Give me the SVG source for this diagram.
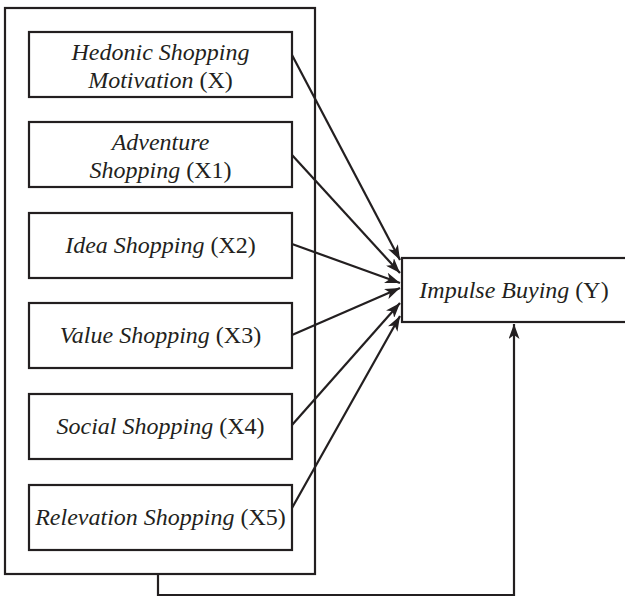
<svg xmlns="http://www.w3.org/2000/svg" width="625" height="599" viewBox="0 0 625 599">
<style>
.box{fill:#fff;stroke:#231f20;stroke-width:2.2}
.t{font-family:"Liberation Serif","Times New Roman",serif;font-size:24px;fill:#231f20;text-anchor:middle}
.i{font-style:italic}
.c{fill:none;stroke:#231f20;stroke-width:2.2}
</style>
<defs>
<marker id="ah" viewBox="0 0 15 11" refX="15" refY="5.5" markerWidth="15" markerHeight="11" markerUnits="userSpaceOnUse" orient="auto">
<path d="M0,0 L15,5.5 L0,11 L4,5.5 Z" fill="#231f20"/>
</marker>
</defs>
<rect id="outer" x="5" y="8" width="310" height="566" fill="#fff" stroke="#231f20" stroke-width="2.2"/>
<g id="x">
<rect class="box" x="29" y="32" width="263" height="65"/>
<text class="t" x="160.5" y="60"><tspan class="i">Hedonic Shopping</tspan></text>
<text class="t" x="160.5" y="88"><tspan class="i">Motivation</tspan> (X)</text>
</g>
<g id="x1">
<rect class="box" x="29" y="122" width="263" height="65"/>
<text class="t" x="160.5" y="150"><tspan class="i">Adventure</tspan></text>
<text class="t" x="160.5" y="178"><tspan class="i">Shopping</tspan> (X1)</text>
</g>
<g id="x2">
<rect class="box" x="29" y="213" width="263" height="65"/>
<text class="t" x="160.5" y="253"><tspan class="i">Idea Shopping</tspan> (X2)</text>
</g>
<g id="x3">
<rect class="box" x="29" y="303" width="263" height="65"/>
<text class="t" x="160.5" y="343"><tspan class="i">Value Shopping</tspan> (X3)</text>
</g>
<g id="x4">
<rect class="box" x="29" y="394" width="263" height="65"/>
<text class="t" x="160.5" y="434"><tspan class="i">Social Shopping</tspan> (X4)</text>
</g>
<g id="x5">
<rect class="box" x="29" y="485" width="263" height="65"/>
<text class="t" x="160.5" y="525"><tspan class="i">Relevation Shopping</tspan> (X5)</text>
</g>
<g id="y">
<rect class="box" x="402" y="258" width="230" height="64"/>
<text class="t" x="514" y="298"><tspan class="i">Impulse Buying</tspan> (Y)</text>
</g>
<g id="connectors">
<line class="c" x1="292" y1="55" x2="400" y2="260" marker-end="url(#ah)"/>
<line class="c" x1="292" y1="155" x2="400" y2="273" marker-end="url(#ah)"/>
<line class="c" x1="292" y1="244" x2="400" y2="283" marker-end="url(#ah)"/>
<line class="c" x1="292" y1="335" x2="400" y2="288" marker-end="url(#ah)"/>
<line class="c" x1="292" y1="425" x2="400" y2="303" marker-end="url(#ah)"/>
<line class="c" x1="292" y1="508" x2="400" y2="316" marker-end="url(#ah)"/>
<polyline class="c" points="158,574 158,595 514,595 514,324" marker-end="url(#ah)"/>
</g>
</svg>
